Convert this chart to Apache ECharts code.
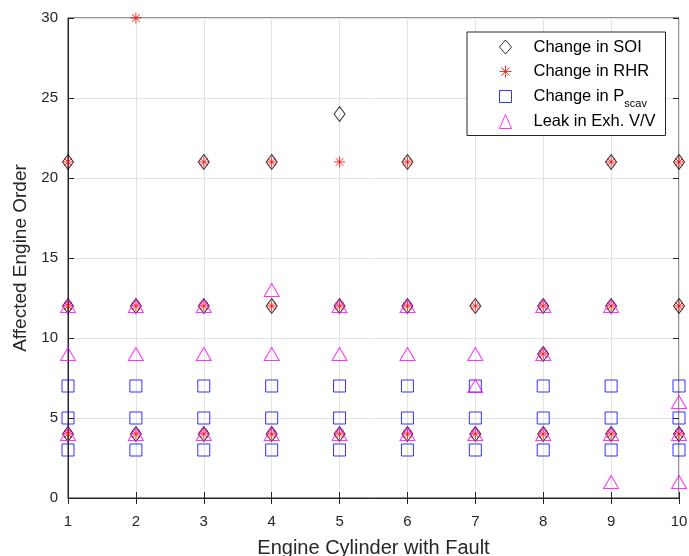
<!DOCTYPE html>
<html>
<head>
<meta charset="utf-8">
<script src="https://cdn.jsdelivr.net/npm/echarts@6/dist/echarts.min.js"></script>
<style>html,body{margin:0;padding:0;background:#fff}#c{width:689px;height:556px}</style>
</head>
<body>
<div id="c"></div>
<script>
// ---- data ----
var xTicks = [1, 2, 3, 4, 5, 6, 7, 8, 9, 10];
var yTicks = [0, 5, 10, 15, 20, 25, 30];
var seriesNames = ['Change in SOI', 'Change in RHR', 'Change in P_scav', 'Leak in Exh. V/V'];
var seriesColors = ['#000000', '#ff0000', '#0000ff', '#ff00ff'];
var soiPoints = [
  [1,21],[3,21],[4,21],[5,24],[6,21],[9,21],[10,21],
  [1,12],[2,12],[3,12],[4,12],[5,12],[6,12],[7,12],[8,12],[9,12],[10,12],
  [8,9],
  [1,4],[2,4],[3,4],[4,4],[5,4],[6,4],[7,4],[8,4],[9,4],[10,4]
];
var rhrPoints = [
  [2,30],
  [1,21],[3,21],[4,21],[5,21],[6,21],[9,21],[10,21],
  [1,12],[2,12],[3,12],[4,12],[5,12],[6,12],[7,12],[8,12],[9,12],[10,12],
  [8,9],
  [1,4],[2,4],[3,4],[4,4],[5,4],[6,4],[7,4],[8,4],[9,4],[10,4]
];
var pscavPoints = [
  [1,7],[2,7],[3,7],[4,7],[5,7],[6,7],[7,7],[8,7],[9,7],[10,7],
  [1,5],[2,5],[3,5],[4,5],[5,5],[6,5],[7,5],[8,5],[9,5],[10,5],
  [1,3],[2,3],[3,3],[4,3],[5,3],[6,3],[7,3],[8,3],[9,3],[10,3]
];
var leakPoints = [
  [4,13],
  [1,12],[2,12],[3,12],[5,12],[6,12],[8,12],[9,12],
  [1,9],[2,9],[3,9],[4,9],[5,9],[6,9],[7,9],[8,9],
  [7,7],[10,6],
  [1,4],[2,4],[3,4],[4,4],[5,4],[6,4],[7,4],[8,4],[9,4],[10,4],
  [9,1],[10,1]
];

var FONT = 'Liberation Sans, Arial, sans-serif';
var AX = '#262626';
var asterisk = 'path://M5 0L5 10M0 5L10 5M1.5 1.5L8.5 8.5M8.5 1.5L1.5 8.5';
var square = 'path://M0 0L10 0L10 10L0 10Z';

var chart = echarts.init(document.getElementById('c'), null, {renderer: 'canvas'});
function hollow(c) { return {color: 'rgba(0,0,0,0)', borderColor: c, borderWidth: 1}; }

var option = {
  backgroundColor: '#fff',
  animation: false,
  grid: {left: 68, right: 10, top: 18, bottom: 58, show: true, borderColor: AX, borderWidth: 1,
         backgroundColor: 'transparent', containLabel: false, outerBoundsMode: 'none'},
  legend: {
    orient: 'vertical',
    left: 467, top: 32,
    padding: [3, 10, 2, 32],
    itemGap: 0.5,
    itemWidth: 12, itemHeight: 14,
    backgroundColor: '#fff',
    borderColor: AX, borderWidth: 1, borderRadius: 0,
    data: seriesNames.map(function (n, i) {
      return {name: n, itemStyle: hollow(seriesColors[i])};
    }),
    formatter: function (n) {
      if (n === 'Change in P_scav') return '{n|Change in P}{s|scav}';
      return '{n|' + n + '}';
    },
    textStyle: {
      fontFamily: FONT, fontSize: 16.5, lineHeight: 24, color: '#000',
      padding: [0, 0, 0, 17],
      rich: {
        n: {fontFamily: FONT, fontSize: 16.5, lineHeight: 24, color: '#000'},
        s: {fontFamily: FONT, fontSize: 11, lineHeight: 10, color: '#000', padding: [14, 0, 0, 0]}
      }
    }
  },
  xAxis: [{
    type: 'value', min: xTicks[0], max: xTicks[xTicks.length - 1], interval: 1,
    name: 'Engine Cylinder with Fault', nameLocation: 'middle', nameGap: 40,
    nameTextStyle: {fontFamily: FONT, fontSize: 20, color: AX},
    axisLine: {show: true, onZero: false, lineStyle: {color: AX}},
    axisTick: {show: true, inside: true, length: 6, lineStyle: {color: AX}},
    axisLabel: {fontFamily: FONT, fontSize: 15, color: AX, margin: 16},
    splitLine: {show: true, lineStyle: {color: '#e3e3e3'}}
  }, {
    type: 'value', position: 'top', min: xTicks[0], max: xTicks[xTicks.length - 1], interval: 1,
    axisLine: {show: false}, axisLabel: {show: false}, splitLine: {show: false},
    axisTick: {show: true, inside: true, length: 6, lineStyle: {color: AX}}
  }],
  yAxis: [{
    type: 'value', min: yTicks[0], max: yTicks[yTicks.length - 1], interval: 5,
    name: 'Affected Engine Order', nameLocation: 'middle', nameGap: 34,
    nameTextStyle: {fontFamily: FONT, fontSize: 19, color: AX},
    axisLine: {show: true, onZero: false, lineStyle: {color: AX}},
    axisTick: {show: true, inside: true, length: 6, lineStyle: {color: AX}},
    axisLabel: {fontFamily: FONT, fontSize: 15, color: AX, margin: 10},
    splitLine: {show: true, lineStyle: {color: '#e3e3e3'}}
  }, {
    type: 'value', position: 'right', min: yTicks[0], max: yTicks[yTicks.length - 1], interval: 5,
    axisLine: {show: false}, axisLabel: {show: false}, splitLine: {show: false},
    axisTick: {show: true, inside: true, length: 6, lineStyle: {color: AX}}
  }],
  series: [
    {name: seriesNames[0], type: 'scatter', data: soiPoints, symbol: 'diamond', symbolSize: [11, 15], itemStyle: hollow(seriesColors[0]), z: 2},
    {name: seriesNames[1], type: 'scatter', data: rhrPoints, symbol: asterisk, symbolSize: 11, itemStyle: hollow(seriesColors[1]), z: 3},
    {name: seriesNames[2], type: 'scatter', data: pscavPoints, symbol: square, symbolSize: 12, itemStyle: hollow(seriesColors[2]), z: 4},
    {name: seriesNames[3], type: 'scatter', data: leakPoints, symbol: 'triangle', symbolSize: [15, 13], itemStyle: hollow(seriesColors[3]), z: 5}
  ]
};
chart.setOption(option);
</script>
</body>
</html>
